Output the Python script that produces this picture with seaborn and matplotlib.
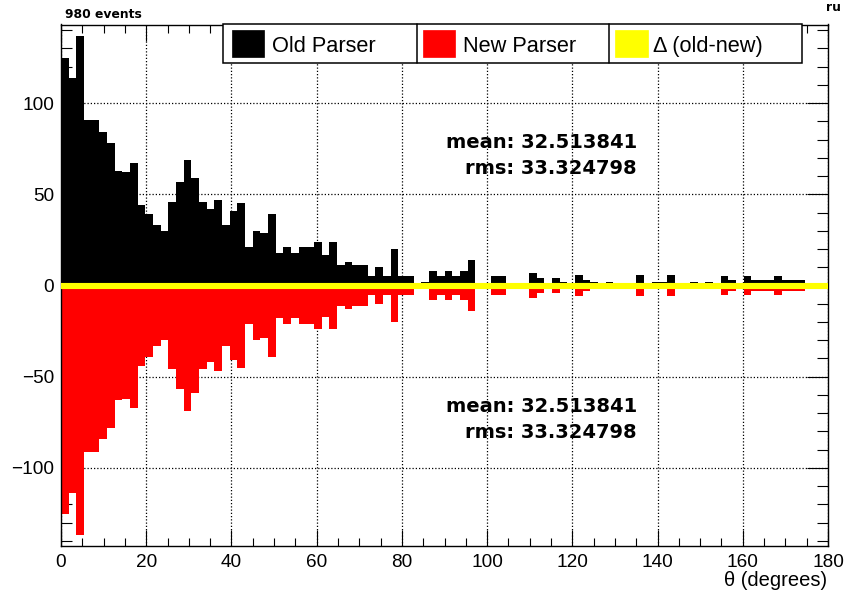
import numpy as np
import pandas as pd
import matplotlib
matplotlib.use("Agg")
import matplotlib.pyplot as plt
import seaborn as sns
from matplotlib.patches import Rectangle
from matplotlib.lines import Line2D
from matplotlib.ticker import MultipleLocator

# ---------------- data ----------------
theta_min, theta_max, n_bins = 0.0, 180.0, 100
old_parser_counts = [
    125, 114, 137, 91, 91, 84, 78, 63, 62, 67,
    44, 39, 33, 30, 46, 57, 69, 59, 46, 42,
    47, 33, 41, 45, 21, 30, 29, 39, 18, 21,
    18, 21, 21, 24, 17, 24, 11, 13, 11, 11,
    5, 10, 5, 20, 5, 5, 0, 2, 8, 5,
    8, 5, 8, 14, 0, 0, 5, 5, 0, 0,
    0, 7, 4, 0, 4, 2, 0, 6, 3, 2,
    0, 2, 0, 0, 0, 6, 0, 2, 2, 6,
    0, 0, 2, 0, 2, 0, 5, 3, 0, 5,
    3, 3, 3, 5, 3, 3, 3, 0, 0, 0,
]
new_parser_counts = list(old_parser_counts)
legend_labels = ["Old Parser", "New Parser", "\u0394 (old-new)"]
old_stats = {"mean": 32.513841, "rms": 33.324798}
new_stats = {"mean": 32.513841, "rms": 33.324798}
n_events = 980
x_label = "\u03b8 (degrees)"
corner_label = "ru"

# ---------------- figure ----------------
sns.set_theme(style="white")
plt.rcParams['font.family'] = ['Liberation Sans', 'DejaVu Sans']

W, H = 844, 594
def fx(px):
    return px / W
def fy(py):
    return 1 - py / H

fig = plt.figure(figsize=(W / 100, H / 100), dpi=100)
ax_l, ax_r, ax_t, ax_b = 61, 828, 24.5, 546
ax = fig.add_axes([fx(ax_l), fy(ax_b), (ax_r - ax_l) / W, (ax_b - ax_t) / H])

bin_width = (theta_max - theta_min) / n_bins
centers = theta_min + bin_width * (np.arange(n_bins) + 0.5)
df = pd.DataFrame({"theta": centers,
                   "old": np.array(old_parser_counts, dtype=float),
                   "new": np.array(new_parser_counts, dtype=float)})
df["new_neg"] = -df["new"]
df["delta"] = df["old"] - df["new"]

common = dict(data=df, x="theta", binwidth=bin_width,
              binrange=(theta_min, theta_max), element="step", ax=ax)
sns.histplot(weights="old", fill=True, color="#000000", alpha=1, linewidth=0,
             zorder=2, **common)
sns.histplot(weights="new_neg", fill=True, color="#ff0000", alpha=1, linewidth=0,
             zorder=2, **common)
sns.histplot(weights="delta", fill=False, color="#ffff00", linewidth=4.4,
             zorder=3, **common)

ax.set_xlim(theta_min, theta_max)
ax.set_ylim(-142.8, 143.1)
ax.set_xlabel("")
ax.set_ylabel("")

ax.xaxis.set_major_locator(MultipleLocator(20))
ax.xaxis.set_minor_locator(MultipleLocator(5))
ax.yaxis.set_major_locator(MultipleLocator(50))
ax.yaxis.set_minor_locator(MultipleLocator(10))
ax.tick_params(which="both", direction="in", top=True, right=True,
               bottom=True, left=True, color="black", width=0.8)
ax.tick_params(axis="x", which="major", length=11.5, labelsize=13.7, pad=6,
               labelcolor="black")
ax.tick_params(axis="x", which="minor", length=5.8)
ax.tick_params(axis="y", which="major", length=15, labelsize=13.7, pad=5,
               labelcolor="black")
ax.tick_params(axis="y", which="minor", length=8)

ax.set_axisbelow(True)
ax.grid(True, which="major", linestyle=(0, (1, 1.6)), color="black", linewidth=0.9)
for s in ax.spines.values():
    s.set_color("black")
    s.set_linewidth(1.0)

# x label
fig.text(fx(827), fy(580), x_label, ha="right", va="center", fontsize=14.5,
         color="black")

# top texts
fig.text(fx(65), fy(18), f"{n_events} events", ha="left", va="baseline",
         fontsize=8.9, fontweight="bold", family="DejaVu Sans", color="black")
fig.text(fx(826), fy(11), corner_label, ha="left", va="baseline",
         fontsize=8.9, fontweight="bold", family="DejaVu Sans", color="black")

# statistics boxes
for base_y, st in [(148.3, old_stats), (412.3, new_stats)]:
    fig.text(fx(637), fy(base_y), f"mean: {st['mean']:.6f}", ha="right",
             va="baseline", fontsize=14, fontweight="bold", family="DejaVu Sans",
             color="black")
    fig.text(fx(637), fy(base_y + 25.7), f"rms: {st['rms']:.6f}", ha="right",
             va="baseline", fontsize=14, fontweight="bold", family="DejaVu Sans",
             color="black")

# legend (ROOT style, columns separated)
lg_l, lg_r, lg_t, lg_b = 222.7, 801.7, 24.3, 63.3
fig.add_artist(Rectangle((fx(lg_l), fy(lg_b)), (lg_r - lg_l) / W, (lg_b - lg_t) / H,
                         transform=fig.transFigure, facecolor="white",
                         edgecolor="black", linewidth=1.1, zorder=5))
for sx in [416.7, 609.3]:
    fig.add_artist(Line2D([fx(sx), fx(sx)], [fy(lg_b), fy(lg_t)],
                          transform=fig.transFigure, color="black",
                          linewidth=1.1, zorder=6))
legend_colors = ["#000000", "#ff0000", "#ffff00"]
sq_x = [231.7, 422.7, 615.0]
txt_x = [271.7, 463.3, 653.3]
for lab, col, sxx, tx in zip(legend_labels, legend_colors, sq_x, txt_x):
    fig.add_artist(Rectangle((fx(sxx), fy(56.5)), 32.7 / W, 26.5 / H,
                             transform=fig.transFigure, facecolor=col,
                             edgecolor=col, linewidth=0.5, zorder=6))
    fig.text(fx(tx), fy(52.3), lab, ha="left", va="baseline", fontsize=15.7,
             color="black", zorder=7)

fig.savefig("out.png", dpi=100)
